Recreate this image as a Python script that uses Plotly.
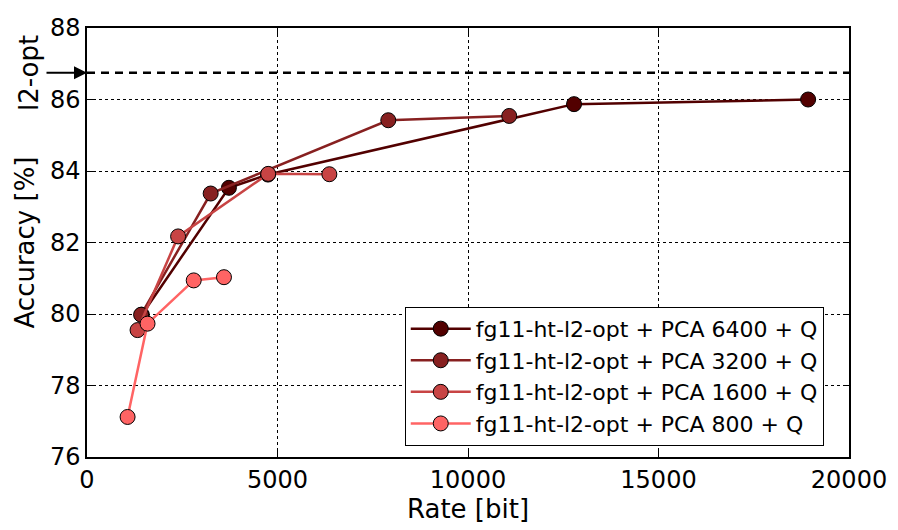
import plotly.graph_objects as go

series_names = [
    "fg11-ht-l2-opt + PCA 6400 + Q",
    "fg11-ht-l2-opt + PCA 3200 + Q",
    "fg11-ht-l2-opt + PCA 1600 + Q",
    "fg11-ht-l2-opt + PCA 800 + Q",
]
rate_6400 = [1440, 3725, 4750, 12783, 18927]
acc_6400 = [79.98, 83.53, 83.90, 85.87, 86.00]
rate_3200 = [1420, 3246, 7908, 11082]
acc_3200 = [79.98, 83.37, 85.42, 85.54]
rate_1600 = [1327, 2391, 4756, 6361]
acc_1600 = [79.55, 82.17, 83.92, 83.91]
rate_800 = [1065, 1589, 2801, 3595]
acc_800 = [77.12, 79.73, 80.94, 81.03]
l2_opt = 86.75

colors = ["#520000", "#872020", "#c84444", "#ff6464"]
xs = [rate_6400, rate_3200, rate_1600, rate_800]
ys = [acc_6400, acc_3200, acc_1600, acc_800]

FONT = "DejaVu Sans"
fig = go.Figure()
for name, x, y, c in zip(series_names, xs, ys, colors):
    fig.add_trace(go.Scatter(
        x=x, y=y, name=name, mode="lines+markers",
        line=dict(color=c, width=2.5),
        marker=dict(color=c, size=15, line=dict(color="black", width=1)),
    ))

fig.add_shape(type="line", xref="paper", x0=0, x1=1, yref="y", y0=l2_opt, y1=l2_opt,
              line=dict(color="black", width=2.5, dash="8px,6px"))

fig.add_annotation(xref="paper", yref="y", x=0, y=l2_opt, text="", showarrow=True,
                   ax=-42, ay=0, arrowhead=2, arrowsize=1.3, arrowwidth=2,
                   arrowcolor="black")
fig.add_annotation(xref="paper", yref="y", x=-0.077, y=l2_opt, text="l2-opt",
                   xanchor="center", yanchor="middle",
                   textangle=-90, showarrow=False, font=dict(family=FONT, size=26, color="black"))

axis_common = dict(showline=True, linecolor="black", linewidth=1.5, mirror="ticks",
                   ticks="inside", ticklen=6, tickcolor="black",
                   showgrid=True, gridcolor="black", gridwidth=1, griddash="dot",
                   zeroline=False, tickfont=dict(family=FONT, size=24, color="black"))

fig.update_xaxes(range=[0, 20000], dtick=5000, tickformat="d",
                 title=dict(text="Rate [bit]", font=dict(family=FONT, size=26, color="black"), standoff=4), **axis_common)
fig.update_yaxes(range=[76, 88], dtick=2,
                 title=dict(text="Accuracy [%]", font=dict(family=FONT, size=26, color="black"), standoff=8), **axis_common)

fig.update_layout(
    width=898, height=530,
    margin=dict(l=87, r=49, t=28, b=73),
    plot_bgcolor="white", paper_bgcolor="white",
    font=dict(family=FONT, color="black"),
    legend=dict(x=0.417, y=0.35, xanchor="left", yanchor="top",
                bordercolor="black", borderwidth=1, bgcolor="white",
                font=dict(family=FONT, size=22, color="black"),
                itemwidth=60, tracegroupgap=0),
)

fig.write_html("out.html")
